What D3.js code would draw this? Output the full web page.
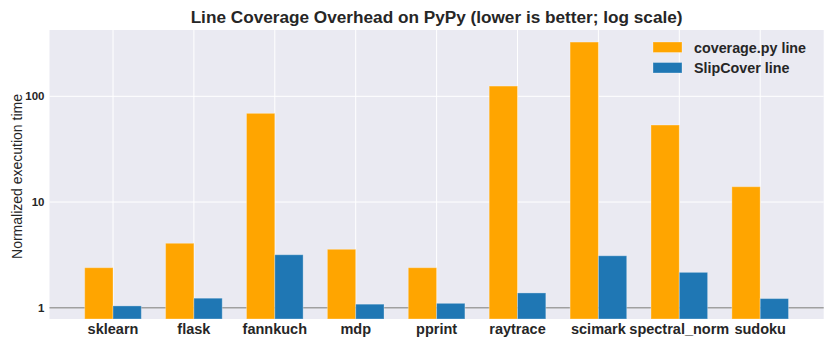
<!DOCTYPE html>
<html>
<head>
<meta charset="utf-8">
<script src="https://cdn.jsdelivr.net/npm/d3@7"></script>
<style>
  body { margin: 0; background: #fff; }
  text { font-family: "Liberation Sans", Arial, sans-serif; }
</style>
</head>
<body>
<div id="chart"></div>
<script>
var benchmarks = ["sklearn", "flask", "fannkuch", "mdp", "pprint", "raytrace", "scimark", "spectral_norm", "sudoku"];
var coverageLine = [2.39, 4.07, 69, 3.57, 2.39, 125, 326, 53.5, 13.95];
var slipcoverLine = [1.04, 1.23, 3.17, 1.08, 1.10, 1.38, 3.10, 2.16, 1.22];
var seriesNames = ["coverage.py line", "SlipCover line"];
var yTicks = [1, 10, 100];

var colors = ["#FFA500", "#1F77B4"];

var width = 830, height = 346;
var margin = {top: 30, right: 6.3, bottom: 27, left: 49.5};
var innerW = width - margin.left - margin.right;
var innerH = height - margin.top - margin.bottom;

var svg = d3.select("#chart").append("svg")
  .attr("width", width)
  .attr("height", height);

var g = svg.append("g")
  .attr("transform", "translate(" + margin.left + "," + margin.top + ")");

// matplotlib style: bar width 0.35, 5% margins
var barW = 0.35;
var x = d3.scaleLinear()
  .domain([-0.785, benchmarks.length - 1 + 0.785])
  .range([0, innerW]);

var y = d3.scaleLog()
  .domain([0.782, 424])
  .range([innerH, 0]);

g.append("rect")
  .attr("width", innerW)
  .attr("height", innerH)
  .attr("fill", "#EAEAF2");

// grid
g.selectAll(".vgrid")
  .data(benchmarks)
  .enter()
  .append("line")
  .attr("x1", function(d, i){ return x(i); })
  .attr("x2", function(d, i){ return x(i); })
  .attr("y1", 0)
  .attr("y2", innerH)
  .attr("stroke", "#fff")
  .attr("stroke-width", 1);

g.selectAll(".hgrid")
  .data(yTicks.filter(function(t){ return t !== 1; }))
  .enter()
  .append("line")
  .attr("x1", 0)
  .attr("x2", innerW)
  .attr("y1", function(d){ return y(d); })
  .attr("y2", function(d){ return y(d); })
  .attr("stroke", "#fff")
  .attr("stroke-width", 1);

// baseline at 1
g.append("line")
  .attr("x1", 0)
  .attr("x2", innerW)
  .attr("y1", y(1))
  .attr("y2", y(1))
  .attr("stroke", "#A0A0A0")
  .attr("stroke-width", 1.5);

var series = [coverageLine, slipcoverLine];
series.forEach(function(vals, s){
  g.selectAll(".bar" + s)
    .data(vals)
    .enter()
    .append("rect")
    .attr("x", function(d, i){ return x(i - barW + s * barW); })
    .attr("width", x(barW) - x(0))
    .attr("y", function(d){ return y(d); })
    .attr("height", function(d){ return innerH - y(d); })
    .attr("fill", colors[s])
    .attr("stroke", "#fff")
    .attr("stroke-opacity", 0.3)
    .attr("stroke-width", 1);
});

// y tick labels
g.selectAll(".ytick")
  .data(yTicks)
  .enter()
  .append("text")
  .attr("x", -5)
  .attr("y", function(d){ return y(d); })
  .attr("dy", "0.35em")
  .attr("text-anchor", "end")
  .attr("font-size", "11.5px")
  .attr("font-weight", "bold")
  .attr("fill", "#262626")
  .text(function(d){ return d; });

// x tick labels
g.selectAll(".xtick")
  .data(benchmarks)
  .enter()
  .append("text")
  .attr("x", function(d, i){ return x(i); })
  .attr("y", innerH + 14.5)
  .attr("text-anchor", "middle")
  .attr("font-size", "14.5px")
  .attr("font-weight", "bold")
  .attr("fill", "#262626")
  .text(function(d){ return d; });

// axis label
svg.append("text")
  .attr("transform", "translate(22," + (margin.top + innerH / 2 + 2) + ") rotate(-90)")
  .attr("text-anchor", "middle")
  .attr("font-size", "14px")
  .attr("fill", "#262626")
  .text("Normalized execution time");

// title
svg.append("text")
  .attr("x", margin.left + innerW / 2)
  .attr("y", 23)
  .attr("text-anchor", "middle")
  .attr("font-size", "17.2px")
  .attr("font-weight", "bold")
  .attr("fill", "#262626")
  .text("Line Coverage Overhead on PyPy (lower is better; log scale)");

// legend
var legend = svg.append("g")
  .attr("transform", "translate(653,42)");

seriesNames.forEach(function(name, i){
  legend.append("rect")
    .attr("x", 0)
    .attr("y", i * 20.5)
    .attr("width", 29)
    .attr("height", 10.5)
    .attr("fill", colors[i])
    .attr("stroke", "#fff")
    .attr("stroke-opacity", 0.3);
  legend.append("text")
    .attr("x", 41)
    .attr("y", i * 20.5 + 5.5)
    .attr("dy", "0.35em")
    .attr("font-size", "14.3px")
    .attr("font-weight", "bold")
    .attr("fill", "#262626")
    .text(name);
});
</script>
</body>
</html>
